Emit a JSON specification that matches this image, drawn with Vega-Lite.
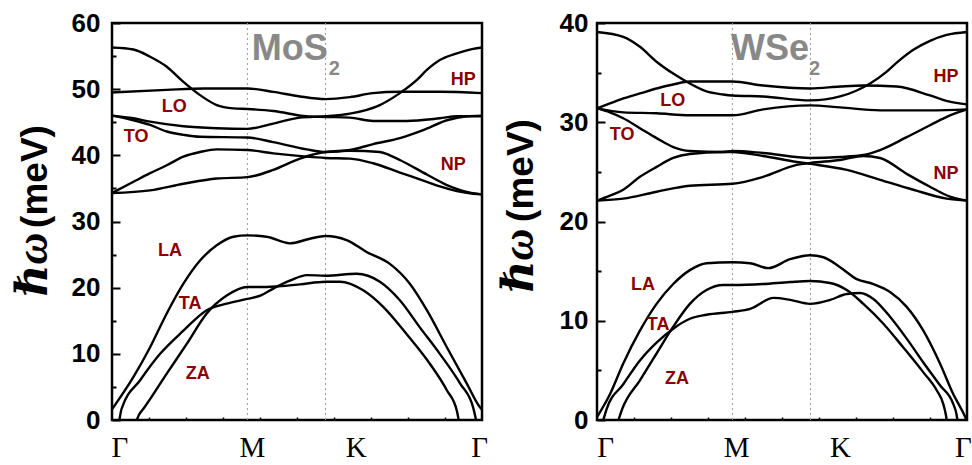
{
  "$schema": "https://vega.github.io/schema/vega-lite/v6.json",
  "background": "white",
  "padding": {"left": 9, "top": 8, "right": 2, "bottom": 2},
  "bounds": "flush",
  "spacing": 115,
  "config": {
    "view": {"stroke": "black", "strokeWidth": 2.5},
    "axis": {"domain": false, "grid": false, "tickColor": "black", "labelColor": "black", "titleColor": "black"}
  },
  "datasets": {
    "mos2": [
      {"b":"LA","x":0,"y":1.6},{"b":"LA","x":0.058,"y":6.5},{"b":"LA","x":0.103,"y":11.0},{"b":"LA","x":0.148,"y":16.1},{"b":"LA","x":0.193,"y":20.6},{"b":"LA","x":0.238,"y":24.1},{"b":"LA","x":0.283,"y":26.4},{"b":"LA","x":0.328,"y":27.7},{"b":"LA","x":0.366,"y":27.9},{"b":"LA","x":0.418,"y":27.7},{"b":"LA","x":0.481,"y":26.7},{"b":"LA","x":0.535,"y":27.4},{"b":"LA","x":0.577,"y":27.8},{"b":"LA","x":0.634,"y":27.2},{"b":"LA","x":0.688,"y":25.4},{"b":"LA","x":0.751,"y":23.6},{"b":"LA","x":0.805,"y":20.6},{"b":"LA","x":0.851,"y":16.6},{"b":"LA","x":0.905,"y":11.0},{"b":"LA","x":0.959,"y":5.5},{"b":"LA","x":0.995,"y":1.9},{"b":"LA","x":1.0,"y":1.6},
      {"b":"TA","x":0.020,"y":0},{"b":"TA","x":0.026,"y":1.7},{"b":"TA","x":0.076,"y":6.0},{"b":"TA","x":0.130,"y":10.0},{"b":"TA","x":0.193,"y":13.5},{"b":"TA","x":0.256,"y":16.6},{"b":"TA","x":0.310,"y":17.6},{"b":"TA","x":0.366,"y":18.3},{"b":"TA","x":0.401,"y":18.8},{"b":"TA","x":0.437,"y":19.9},{"b":"TA","x":0.482,"y":21.1},{"b":"TA","x":0.527,"y":21.9},{"b":"TA","x":0.577,"y":21.8},{"b":"TA","x":0.661,"y":22.1},{"b":"TA","x":0.724,"y":20.9},{"b":"TA","x":0.778,"y":18.1},{"b":"TA","x":0.832,"y":14.0},{"b":"TA","x":0.886,"y":10.0},{"b":"TA","x":0.941,"y":5.5},{"b":"TA","x":0.976,"y":1.9},{"b":"TA","x":0.984,"y":0},
      {"b":"ZA","x":0.067,"y":0},{"b":"ZA","x":0.073,"y":0.8},{"b":"ZA","x":0.085,"y":1.7},{"b":"ZA","x":0.148,"y":7.0},{"b":"ZA","x":0.202,"y":11.5},{"b":"ZA","x":0.256,"y":16.1},{"b":"ZA","x":0.310,"y":18.8},{"b":"ZA","x":0.366,"y":20.1},{"b":"ZA","x":0.418,"y":20.1},{"b":"ZA","x":0.45,"y":20.2},{"b":"ZA","x":0.508,"y":20.5},{"b":"ZA","x":0.577,"y":20.9},{"b":"ZA","x":0.616,"y":20.9},{"b":"ZA","x":0.679,"y":19.6},{"b":"ZA","x":0.733,"y":17.1},{"b":"ZA","x":0.796,"y":13.0},{"b":"ZA","x":0.859,"y":8.5},{"b":"ZA","x":0.905,"y":4.5},{"b":"ZA","x":0.932,"y":1.4},{"b":"ZA","x":0.937,"y":0},
      {"b":"O1","x":0,"y":56.3},{"b":"O1","x":0.058,"y":56.0},{"b":"O1","x":0.103,"y":54.9},{"b":"O1","x":0.148,"y":53.4},{"b":"O1","x":0.193,"y":51.1},{"b":"O1","x":0.238,"y":49.1},{"b":"O1","x":0.283,"y":47.6},{"b":"O1","x":0.328,"y":47.1},{"b":"O1","x":0.366,"y":47.0},{"b":"O1","x":0.436,"y":46.7},{"b":"O1","x":0.526,"y":45.9},{"b":"O1","x":0.577,"y":45.8},{"b":"O1","x":0.643,"y":45.7},{"b":"O1","x":0.706,"y":45.2},{"b":"O1","x":0.796,"y":45.2},{"b":"O1","x":0.886,"y":45.6},{"b":"O1","x":0.932,"y":45.9},{"b":"O1","x":1.0,"y":45.9},
      {"b":"O2","x":0,"y":49.5},{"b":"O2","x":0.148,"y":49.9},{"b":"O2","x":0.25,"y":50.1},{"b":"O2","x":0.366,"y":50.1},{"b":"O2","x":0.436,"y":49.6},{"b":"O2","x":0.508,"y":48.9},{"b":"O2","x":0.577,"y":48.5},{"b":"O2","x":0.643,"y":48.8},{"b":"O2","x":0.705,"y":49.4},{"b":"O2","x":0.778,"y":49.6},{"b":"O2","x":0.886,"y":49.6},{"b":"O2","x":1.0,"y":49.4},
      {"b":"O3","x":0,"y":46.0},{"b":"O3","x":0.058,"y":45.6},{"b":"O3","x":0.103,"y":45.1},{"b":"O3","x":0.193,"y":44.4},{"b":"O3","x":0.283,"y":44.1},{"b":"O3","x":0.366,"y":44.0},{"b":"O3","x":0.436,"y":44.8},{"b":"O3","x":0.508,"y":45.7},{"b":"O3","x":0.577,"y":45.9},{"b":"O3","x":0.643,"y":46.3},{"b":"O3","x":0.724,"y":47.6},{"b":"O3","x":0.778,"y":49.4},{"b":"O3","x":0.824,"y":51.4},{"b":"O3","x":0.851,"y":52.9},{"b":"O3","x":0.886,"y":54.4},{"b":"O3","x":0.932,"y":55.4},{"b":"O3","x":0.976,"y":56.1},{"b":"O3","x":1.0,"y":56.3},
      {"b":"O4","x":0,"y":46.0},{"b":"O4","x":0.058,"y":45.3},{"b":"O4","x":0.103,"y":44.6},{"b":"O4","x":0.148,"y":43.6},{"b":"O4","x":0.193,"y":43.1},{"b":"O4","x":0.238,"y":42.8},{"b":"O4","x":0.366,"y":42.7},{"b":"O4","x":0.436,"y":42.0},{"b":"O4","x":0.526,"y":40.9},{"b":"O4","x":0.577,"y":40.5},{"b":"O4","x":0.643,"y":40.8},{"b":"O4","x":0.706,"y":41.7},{"b":"O4","x":0.778,"y":42.6},{"b":"O4","x":0.841,"y":43.8},{"b":"O4","x":0.905,"y":45.3},{"b":"O4","x":0.959,"y":45.9},{"b":"O4","x":1.0,"y":46.0},
      {"b":"O5","x":0,"y":34.3},{"b":"O5","x":0.058,"y":36.0},{"b":"O5","x":0.103,"y":37.3},{"b":"O5","x":0.148,"y":38.5},{"b":"O5","x":0.193,"y":39.8},{"b":"O5","x":0.238,"y":40.5},{"b":"O5","x":0.283,"y":40.9},{"b":"O5","x":0.366,"y":40.8},{"b":"O5","x":0.436,"y":40.3},{"b":"O5","x":0.526,"y":39.8},{"b":"O5","x":0.577,"y":39.6},{"b":"O5","x":0.643,"y":39.5},{"b":"O5","x":0.706,"y":38.8},{"b":"O5","x":0.778,"y":37.4},{"b":"O5","x":0.851,"y":36.0},{"b":"O5","x":0.886,"y":35.3},{"b":"O5","x":0.932,"y":34.6},{"b":"O5","x":0.976,"y":34.2},{"b":"O5","x":1.0,"y":34.1},
      {"b":"O6","x":0,"y":34.3},{"b":"O6","x":0.103,"y":34.7},{"b":"O6","x":0.193,"y":35.7},{"b":"O6","x":0.283,"y":36.5},{"b":"O6","x":0.366,"y":36.7},{"b":"O6","x":0.436,"y":37.8},{"b":"O6","x":0.508,"y":39.5},{"b":"O6","x":0.577,"y":40.5},{"b":"O6","x":0.643,"y":40.7},{"b":"O6","x":0.724,"y":40.5},{"b":"O6","x":0.751,"y":40.0},{"b":"O6","x":0.778,"y":39.3},{"b":"O6","x":0.851,"y":37.1},{"b":"O6","x":0.905,"y":35.5},{"b":"O6","x":0.95,"y":34.6},{"b":"O6","x":1.0,"y":34.1}
    ],
    "wse2": [
      {"b":"LA","x":0,"y":0.3},{"b":"LA","x":0.035,"y":2.6},{"b":"LA","x":0.071,"y":5.7},{"b":"LA","x":0.116,"y":9.0},{"b":"LA","x":0.161,"y":11.7},{"b":"LA","x":0.206,"y":13.7},{"b":"LA","x":0.251,"y":15.1},{"b":"LA","x":0.296,"y":15.8},{"b":"LA","x":0.366,"y":15.9},{"b":"LA","x":0.414,"y":15.8},{"b":"LA","x":0.463,"y":15.3},{"b":"LA","x":0.522,"y":16.2},{"b":"LA","x":0.576,"y":16.6},{"b":"LA","x":0.612,"y":16.4},{"b":"LA","x":0.657,"y":15.4},{"b":"LA","x":0.702,"y":14.2},{"b":"LA","x":0.747,"y":13.7},{"b":"LA","x":0.792,"y":12.9},{"b":"LA","x":0.837,"y":11.4},{"b":"LA","x":0.882,"y":9.0},{"b":"LA","x":0.927,"y":5.7},{"b":"LA","x":0.963,"y":2.6},{"b":"LA","x":0.986,"y":1.0},{"b":"LA","x":0.999,"y":0},
      {"b":"TA","x":0.017,"y":0},{"b":"TA","x":0.026,"y":1.1},{"b":"TA","x":0.071,"y":3.6},{"b":"TA","x":0.116,"y":6.0},{"b":"TA","x":0.161,"y":7.8},{"b":"TA","x":0.206,"y":9.2},{"b":"TA","x":0.251,"y":10.2},{"b":"TA","x":0.296,"y":10.6},{"b":"TA","x":0.366,"y":10.9},{"b":"TA","x":0.414,"y":11.2},{"b":"TA","x":0.477,"y":12.3},{"b":"TA","x":0.522,"y":12.1},{"b":"TA","x":0.576,"y":11.7},{"b":"TA","x":0.63,"y":12.1},{"b":"TA","x":0.675,"y":12.7},{"b":"TA","x":0.711,"y":12.8},{"b":"TA","x":0.747,"y":12.2},{"b":"TA","x":0.792,"y":10.4},{"b":"TA","x":0.837,"y":8.2},{"b":"TA","x":0.882,"y":5.8},{"b":"TA","x":0.927,"y":3.5},{"b":"TA","x":0.963,"y":1.6},{"b":"TA","x":0.972,"y":0.5},{"b":"TA","x":0.974,"y":0},
      {"b":"ZA","x":0.058,"y":0},{"b":"ZA","x":0.067,"y":1.0},{"b":"ZA","x":0.116,"y":4.0},{"b":"ZA","x":0.161,"y":6.7},{"b":"ZA","x":0.206,"y":9.4},{"b":"ZA","x":0.251,"y":11.7},{"b":"ZA","x":0.296,"y":13.1},{"b":"ZA","x":0.341,"y":13.6},{"b":"ZA","x":0.366,"y":13.6},{"b":"ZA","x":0.449,"y":13.7},{"b":"ZA","x":0.522,"y":13.9},{"b":"ZA","x":0.576,"y":14.0},{"b":"ZA","x":0.63,"y":13.8},{"b":"ZA","x":0.675,"y":13.1},{"b":"ZA","x":0.72,"y":11.7},{"b":"ZA","x":0.774,"y":9.7},{"b":"ZA","x":0.828,"y":7.3},{"b":"ZA","x":0.882,"y":4.8},{"b":"ZA","x":0.918,"y":3.0},{"b":"ZA","x":0.936,"y":1.6},{"b":"ZA","x":0.943,"y":0.5},{"b":"ZA","x":0.945,"y":0},
      {"b":"O1","x":0,"y":39.1},{"b":"O1","x":0.071,"y":38.6},{"b":"O1","x":0.116,"y":37.6},{"b":"O1","x":0.161,"y":36.1},{"b":"O1","x":0.206,"y":34.9},{"b":"O1","x":0.251,"y":33.9},{"b":"O1","x":0.296,"y":33.1},{"b":"O1","x":0.341,"y":32.8},{"b":"O1","x":0.366,"y":32.7},{"b":"O1","x":0.449,"y":32.6},{"b":"O1","x":0.577,"y":32.2},{"b":"O1","x":0.657,"y":32.6},{"b":"O1","x":0.702,"y":33.2},{"b":"O1","x":0.738,"y":33.9},{"b":"O1","x":0.783,"y":35.1},{"b":"O1","x":0.81,"y":36.0},{"b":"O1","x":0.855,"y":37.3},{"b":"O1","x":0.9,"y":38.2},{"b":"O1","x":0.945,"y":38.8},{"b":"O1","x":1.0,"y":39.1},
      {"b":"O2","x":0,"y":31.4},{"b":"O2","x":0.035,"y":31.9},{"b":"O2","x":0.071,"y":32.4},{"b":"O2","x":0.116,"y":32.9},{"b":"O2","x":0.161,"y":33.4},{"b":"O2","x":0.206,"y":33.8},{"b":"O2","x":0.251,"y":34.1},{"b":"O2","x":0.341,"y":34.1},{"b":"O2","x":0.366,"y":34.1},{"b":"O2","x":0.449,"y":33.7},{"b":"O2","x":0.577,"y":33.4},{"b":"O2","x":0.657,"y":33.6},{"b":"O2","x":0.72,"y":33.7},{"b":"O2","x":0.81,"y":33.6},{"b":"O2","x":0.9,"y":32.7},{"b":"O2","x":0.95,"y":32.1},{"b":"O2","x":1.0,"y":31.8},
      {"b":"O3","x":0,"y":31.4},{"b":"O3","x":0.071,"y":31.0},{"b":"O3","x":0.161,"y":30.9},{"b":"O3","x":0.251,"y":30.7},{"b":"O3","x":0.366,"y":30.7},{"b":"O3","x":0.449,"y":31.3},{"b":"O3","x":0.577,"y":31.7},{"b":"O3","x":0.657,"y":31.5},{"b":"O3","x":0.765,"y":31.2},{"b":"O3","x":0.9,"y":31.2},{"b":"O3","x":1.0,"y":31.3},
      {"b":"O4","x":0,"y":31.4},{"b":"O4","x":0.035,"y":31.0},{"b":"O4","x":0.071,"y":30.4},{"b":"O4","x":0.116,"y":29.4},{"b":"O4","x":0.161,"y":28.4},{"b":"O4","x":0.206,"y":27.5},{"b":"O4","x":0.251,"y":27.1},{"b":"O4","x":0.341,"y":27.0},{"b":"O4","x":0.366,"y":27.1},{"b":"O4","x":0.449,"y":26.9},{"b":"O4","x":0.577,"y":26.4},{"b":"O4","x":0.657,"y":26.5},{"b":"O4","x":0.72,"y":26.7},{"b":"O4","x":0.765,"y":27.2},{"b":"O4","x":0.837,"y":28.5},{"b":"O4","x":0.9,"y":29.7},{"b":"O4","x":0.954,"y":30.7},{"b":"O4","x":1.0,"y":31.3},
      {"b":"O5","x":0,"y":22.1},{"b":"O5","x":0.035,"y":22.6},{"b":"O5","x":0.071,"y":23.2},{"b":"O5","x":0.116,"y":24.5},{"b":"O5","x":0.161,"y":25.5},{"b":"O5","x":0.206,"y":26.4},{"b":"O5","x":0.251,"y":26.8},{"b":"O5","x":0.341,"y":27.0},{"b":"O5","x":0.366,"y":27.0},{"b":"O5","x":0.449,"y":26.6},{"b":"O5","x":0.54,"y":26.0},{"b":"O5","x":0.577,"y":25.8},{"b":"O5","x":0.675,"y":25.2},{"b":"O5","x":0.765,"y":24.2},{"b":"O5","x":0.855,"y":23.2},{"b":"O5","x":0.945,"y":22.3},{"b":"O5","x":1.0,"y":22.1},
      {"b":"O6","x":0,"y":22.1},{"b":"O6","x":0.071,"y":22.3},{"b":"O6","x":0.161,"y":23.0},{"b":"O6","x":0.251,"y":23.6},{"b":"O6","x":0.366,"y":23.8},{"b":"O6","x":0.449,"y":24.5},{"b":"O6","x":0.54,"y":25.7},{"b":"O6","x":0.577,"y":25.9},{"b":"O6","x":0.657,"y":26.2},{"b":"O6","x":0.72,"y":26.6},{"b":"O6","x":0.765,"y":26.4},{"b":"O6","x":0.837,"y":24.8},{"b":"O6","x":0.9,"y":23.5},{"b":"O6","x":0.954,"y":22.5},{"b":"O6","x":1.0,"y":22.1}
    ],
    "mos2Labels": [
      {"t":"LO","x":0.168,"y":47.3},{"t":"TO","x":0.065,"y":42.8},{"t":"HP","x":0.949,"y":51.4},{"t":"NP","x":0.922,"y":38.5},
      {"t":"LA","x":0.157,"y":25.5},{"t":"TA","x":0.211,"y":17.6},{"t":"ZA","x":0.232,"y":7.0}
    ],
    "wse2Labels": [
      {"t":"LO","x":0.205,"y":32.1},{"t":"TO","x":0.068,"y":28.7},{"t":"HP","x":0.943,"y":34.6},{"t":"NP","x":0.943,"y":24.8},
      {"t":"LA","x":0.124,"y":13.6},{"t":"TA","x":0.165,"y":9.6},{"t":"ZA","x":0.216,"y":4.1}
    ]
  },
  "hconcat": [
    {
      "width": 370,
      "height": 397,
      "resolve": {"axis": {"x": "independent", "y": "independent"}},
      "layer": [
        {
          "data": {"values": [{"x": 0.366}, {"x": 0.577}]},
          "mark": {"type": "rule", "color": "#9a9a9a", "strokeWidth": 1, "strokeDash": [2, 3]},
          "encoding": {
            "x": {"field": "x", "type": "quantitative", "scale": {"domain": [0, 1], "nice": false}, "axis": null}
          }
        },
        {
          "data": {"name": "mos2"},
          "mark": {"type": "line", "color": "black", "strokeWidth": 2.4, "interpolate": "monotone"},
          "encoding": {
            "x": {"field": "x", "type": "quantitative", "scale": {"domain": [0, 1], "nice": false},
              "axis": {"orient": "bottom", "values": [0.02, 0.378, 0.659, 0.992], "ticks": false,
                "labelExpr": "datum.value < 0.2 ? 'Γ' : datum.value < 0.5 ? 'M' : datum.value < 0.8 ? 'K' : 'Γ'",
                "labelFont": "Liberation Serif", "labelFontSize": 29, "labelFontWeight": "normal",
                "labelPadding": 13, "labelFlush": false, "labelOverlap": false, "title": null}},
            "y": {"field": "y", "type": "quantitative", "scale": {"domain": [0, 60], "nice": false, "zero": false},
              "axis": {"orient": "left", "values": [0, 10, 20, 30, 40, 50, 60], "ticks": false,
                "labelFont": "Liberation Sans", "labelFontSize": 26, "labelFontWeight": "bold", "labelPadding": 12,
                "title": "(meV)", "titleFont": "Liberation Sans", "titleFontSize": 37, "titleFontWeight": "bold",
                "titleX": -66, "titleY": 153, "titleAngle": 270, "titleAlign": "center", "titleBaseline": "alphabetic"}},
            "detail": {"field": "b"}
          }
        },
        {
          "data": {"name": "mos2Labels"},
          "mark": {"type": "text", "color": "#8b0000", "font": "Liberation Sans", "fontSize": 18, "fontWeight": "bold", "align": "center", "baseline": "middle"},
          "encoding": {
            "x": {"field": "x", "type": "quantitative", "scale": {"domain": [0, 1], "nice": false},
              "axis": {"orient": "bottom", "values": [0.1, 0.2, 0.3, 0.4, 0.5, 0.6, 0.7, 0.8, 0.9], "offset": -3, "tickSize": 3, "tickWidth": 1.5, "labels": false, "title": null}},
            "y": {"field": "y", "type": "quantitative", "scale": {"domain": [0, 60], "nice": false, "zero": false},
              "axis": {"orient": "left", "values": [0, 10, 20, 30, 40, 50, 60], "offset": -8, "tickSize": 8, "tickWidth": 2, "labels": false,
                "title": "ℏω", "titleFont": "Liberation Serif, DejaVu Serif, serif", "titleFontSize": 44, "titleFontWeight": "bold", "titleFontStyle": "italic",
                "titleX": -74, "titleY": 241, "titleAngle": 270, "titleAlign": "center", "titleBaseline": "alphabetic"}},
            "text": {"field": "t"}
          }
        },
        {
          "data": {"values": [{"x": 0.378, "y": 54.4, "t": "MoS"}]},
          "mark": {"type": "text", "color": "#888888", "font": "Liberation Sans", "fontSize": 36, "fontWeight": "bold", "align": "left", "baseline": "alphabetic"},
          "encoding": {
            "x": {"field": "x", "type": "quantitative", "scale": {"domain": [0, 1], "nice": false}, "axis": null},
            "y": {"field": "y", "type": "quantitative", "scale": {"domain": [0, 60], "nice": false, "zero": false},
              "axis": {"orient": "left", "values": [5, 15, 25, 35, 45, 55], "offset": -4, "tickSize": 4, "tickWidth": 2, "labels": false, "title": null}},
            "text": {"field": "t"}
          }
        },
        {
          "data": {"values": [{"x": 0.586, "y": 52.1, "t": "2"}]},
          "mark": {"type": "text", "color": "#888888", "font": "Liberation Sans", "fontSize": 20, "fontWeight": "bold", "align": "left", "baseline": "alphabetic"},
          "encoding": {
            "x": {"field": "x", "type": "quantitative", "scale": {"domain": [0, 1], "nice": false}, "axis": null},
            "y": {"field": "y", "type": "quantitative", "scale": {"domain": [0, 60], "nice": false, "zero": false}, "axis": null},
            "text": {"field": "t"}
          }
        }
      ]
    },
    {
      "width": 370,
      "height": 397,
      "resolve": {"axis": {"x": "independent", "y": "independent"}},
      "layer": [
        {
          "data": {"values": [{"x": 0.366}, {"x": 0.577}]},
          "mark": {"type": "rule", "color": "#9a9a9a", "strokeWidth": 1, "strokeDash": [2, 3]},
          "encoding": {
            "x": {"field": "x", "type": "quantitative", "scale": {"domain": [0, 1], "nice": false}, "axis": null}
          }
        },
        {
          "data": {"name": "wse2"},
          "mark": {"type": "line", "color": "black", "strokeWidth": 2.4, "interpolate": "monotone"},
          "encoding": {
            "x": {"field": "x", "type": "quantitative", "scale": {"domain": [0, 1], "nice": false},
              "axis": {"orient": "bottom", "values": [0.022, 0.376, 0.657, 0.989], "ticks": false,
                "labelExpr": "datum.value < 0.2 ? 'Γ' : datum.value < 0.5 ? 'M' : datum.value < 0.8 ? 'K' : 'Γ'",
                "labelFont": "Liberation Serif", "labelFontSize": 29, "labelFontWeight": "normal",
                "labelPadding": 13, "labelFlush": false, "labelOverlap": false, "title": null}},
            "y": {"field": "y", "type": "quantitative", "scale": {"domain": [0, 40], "nice": false, "zero": false},
              "axis": {"orient": "left", "values": [0, 10, 20, 30, 40], "ticks": false,
                "labelFont": "Liberation Sans", "labelFontSize": 26, "labelFontWeight": "bold", "labelPadding": 9,
                "title": "(meV)", "titleFont": "Liberation Sans", "titleFontSize": 37, "titleFontWeight": "bold",
                "titleX": -65, "titleY": 147, "titleAngle": 270, "titleAlign": "center", "titleBaseline": "alphabetic"}},
            "detail": {"field": "b"}
          }
        },
        {
          "data": {"name": "wse2Labels"},
          "mark": {"type": "text", "color": "#8b0000", "font": "Liberation Sans", "fontSize": 18, "fontWeight": "bold", "align": "center", "baseline": "middle"},
          "encoding": {
            "x": {"field": "x", "type": "quantitative", "scale": {"domain": [0, 1], "nice": false},
              "axis": {"orient": "bottom", "values": [0.1, 0.2, 0.3, 0.4, 0.5, 0.6, 0.7, 0.8, 0.9], "offset": -3, "tickSize": 3, "tickWidth": 1.5, "labels": false, "title": null}},
            "y": {"field": "y", "type": "quantitative", "scale": {"domain": [0, 40], "nice": false, "zero": false},
              "axis": {"orient": "left", "values": [0, 10, 20, 30, 40], "offset": -8, "tickSize": 8, "tickWidth": 2, "labels": false,
                "title": "ℏω", "titleFont": "Liberation Serif, DejaVu Serif, serif", "titleFontSize": 44, "titleFontWeight": "bold", "titleFontStyle": "italic",
                "titleX": -73, "titleY": 237, "titleAngle": 270, "titleAlign": "center", "titleBaseline": "alphabetic"}},
            "text": {"field": "t"}
          }
        },
        {
          "data": {"values": [{"x": 0.362, "y": 36.27, "t": "WSe"}]},
          "mark": {"type": "text", "color": "#888888", "font": "Liberation Sans", "fontSize": 36, "fontWeight": "bold", "align": "left", "baseline": "alphabetic"},
          "encoding": {
            "x": {"field": "x", "type": "quantitative", "scale": {"domain": [0, 1], "nice": false}, "axis": null},
            "y": {"field": "y", "type": "quantitative", "scale": {"domain": [0, 40], "nice": false, "zero": false},
              "axis": {"orient": "left", "values": [5, 15, 25, 35], "offset": -4, "tickSize": 4, "tickWidth": 2, "labels": false, "title": null}},
            "text": {"field": "t"}
          }
        },
        {
          "data": {"values": [{"x": 0.573, "y": 34.75, "t": "2"}]},
          "mark": {"type": "text", "color": "#888888", "font": "Liberation Sans", "fontSize": 20, "fontWeight": "bold", "align": "left", "baseline": "alphabetic"},
          "encoding": {
            "x": {"field": "x", "type": "quantitative", "scale": {"domain": [0, 1], "nice": false}, "axis": null},
            "y": {"field": "y", "type": "quantitative", "scale": {"domain": [0, 40], "nice": false, "zero": false}, "axis": null},
            "text": {"field": "t"}
          }
        }
      ]
    }
  ]
}
